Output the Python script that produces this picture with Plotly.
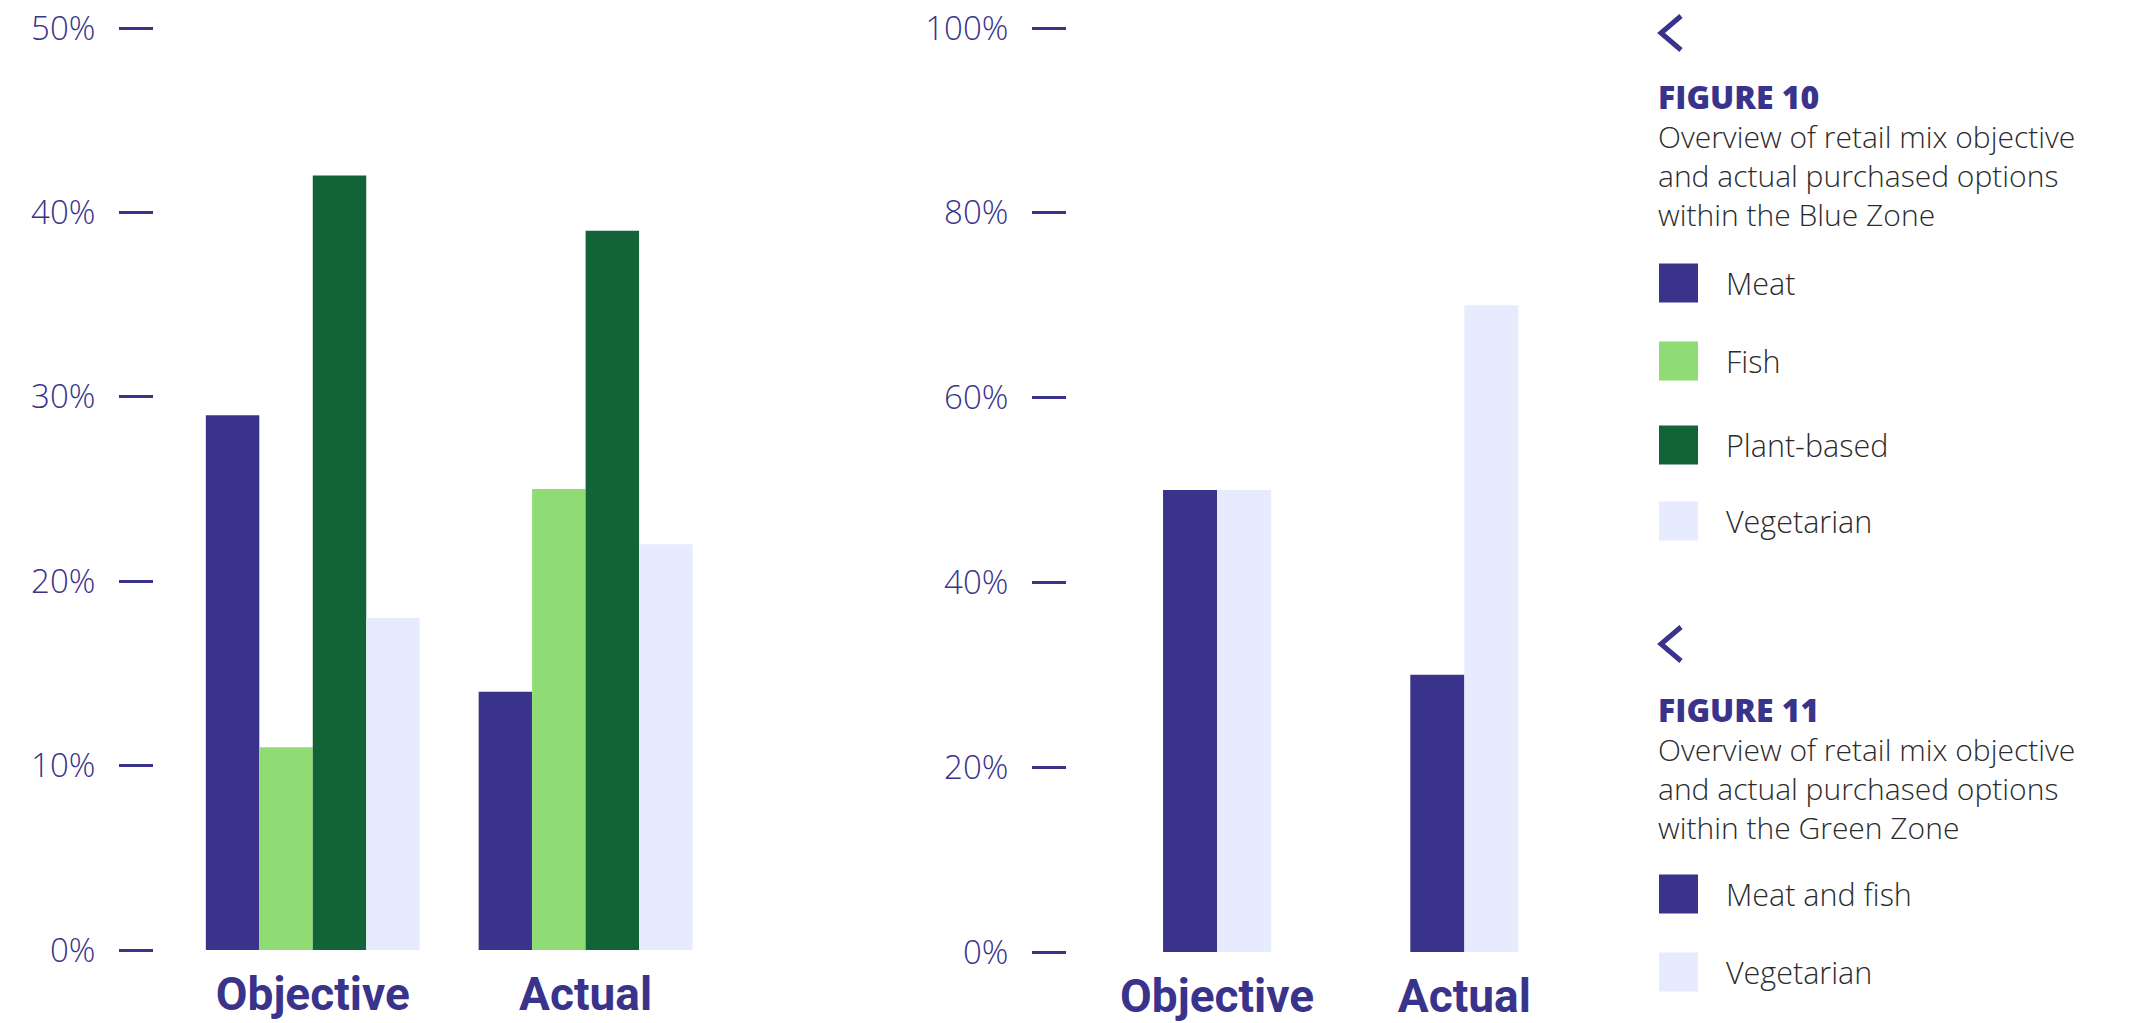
import plotly.graph_objects as go

# ---- data ----------------------------------------------------------------
categories = ["Objective", "Actual"]

# Figure 10: Blue Zone retail mix (%)
blue_series = ["Meat", "Fish", "Plant-based", "Vegetarian"]
blue_meat = [29, 14]
blue_fish = [11, 25]
blue_plant = [42, 39]
blue_veg = [18, 22]

# Figure 11: Green Zone retail mix (%)
green_series = ["Meat and fish", "Vegetarian"]
green_meat_fish = [50, 30]
green_veg = [50, 70]

blue_ticks = [0, 10, 20, 30, 40, 50]
green_ticks = [0, 20, 40, 60, 80, 100]

fig10_title = "FIGURE 10"
fig10_caption = ["Overview of retail mix objective",
                 "and actual purchased options",
                 "within the Blue Zone"]
fig11_title = "FIGURE 11"
fig11_caption = ["Overview of retail mix objective",
                 "and actual purchased options",
                 "within the Green Zone"]

# ---- styling -------------------------------------------------------------
W, H = 2152, 1023
PURPLE = "#3a338c"
FISH_GREEN = "#8edc73"
PLANT_GREEN = "#136339"
VEG_BLUE = "#e6ebfd"
TEXT_GREY = "#2b2b2b"

blue_colors = [PURPLE, FISH_GREEN, PLANT_GREEN, VEG_BLUE]
green_colors = [PURPLE, VEG_BLUE]


def fx(px):
    return px / W


def fy(py):
    return 1 - py / H


fig = go.Figure()

# Blue Zone grouped bars
blue_values = [blue_meat, blue_fish, blue_plant, blue_veg]
bw1 = 0.196
for i, (name, vals, col) in enumerate(zip(blue_series, blue_values, blue_colors)):
    fig.add_trace(go.Bar(
        x=categories, y=vals, name=name, marker=dict(color=col, line=dict(width=0)),
        width=bw1, offset=-2 * bw1 + i * bw1, xaxis="x", yaxis="y", showlegend=False,
    ))

# Green Zone grouped bars
green_values = [green_meat_fish, green_veg]
bw2 = 0.2186
for i, (name, vals, col) in enumerate(zip(green_series, green_values, green_colors)):
    fig.add_trace(go.Bar(
        x=categories, y=vals, name=name, marker=dict(color=col, line=dict(width=0)),
        width=bw2, offset=-bw2 + i * bw2, xaxis="x2", yaxis="y2", showlegend=False,
    ))

tick_font = dict(family="Open Sans", size=33, color=PURPLE, weight=300)
cat_font = dict(family="Roboto", size=46, color=PURPLE, weight=700)

yaxis_common = dict(
    ticks="outside", ticklen=34, tickwidth=2.5, tickcolor=PURPLE,
    showgrid=False, zeroline=False, showline=False, automargin=False,
    tickfont=tick_font, ticklabelstandoff=17, fixedrange=True,
)
xaxis_common = dict(
    type="category", ticks="", showgrid=False, zeroline=False, showline=False,
    automargin=False, tickfont=cat_font, ticklabelstandoff=13, fixedrange=True,
)

fig.update_layout(
    width=W, height=H,
    margin=dict(l=0, r=0, t=0, b=0, autoexpand=False),
    paper_bgcolor="white", plot_bgcolor="white",
    barmode="group",
    xaxis=dict(domain=[fx(154), fx(722)], range=[-0.582, 1.5], anchor="y", **xaxis_common),
    yaxis=dict(domain=[fy(950), fy(28)], range=[0, 50], anchor="x",
               tickvals=blue_ticks, ticktext=[f"{v}%" for v in blue_ticks], **yaxis_common),
    xaxis2=dict(domain=[fx(1067), fx(1588)], range=[-0.607, 1.5], anchor="y2", **xaxis_common),
    yaxis2=dict(domain=[fy(952), fy(28)], range=[0, 100], anchor="x2",
                tickvals=green_ticks, ticktext=[f"{v}%" for v in green_ticks], **yaxis_common),
)

# ---- side panel: captions and legends --------------------------------------
shapes = []
annotations = []
PANEL_X = 1659
LABEL_X = 1726
SW = 39  # swatch size in px
BODY_SIZE = 30

body_font = dict(family="Open Sans", size=BODY_SIZE, color=TEXT_GREY, weight=300)
label_font = dict(family="Open Sans", size=30.5, color=TEXT_GREY, weight=300)


def chevron(top, bottom):
    mid = (top + bottom) / 2
    path = (f"M {fx(PANEL_X + 22)} {fy(top)} L {fx(PANEL_X + 2)} {fy(mid)} "
            f"L {fx(PANEL_X + 22)} {fy(bottom)}")
    shapes.append(dict(type="path", path=path, xref="paper", yref="paper",
                       line=dict(color=PURPLE, width=5)))


def text(x, y, s, font, yanchor="middle"):
    annotations.append(dict(x=fx(x), y=fy(y), xref="paper", yref="paper", text=s,
                            showarrow=False, xanchor="left", yanchor=yanchor,
                            align="left", font=font))


def panel(title, caption, names, colors, chev_top, title_y, row_ys):
    chevron(chev_top, chev_top + 34)
    # heading in bold purple followed by the caption lines, as one text block
    heading = (f"<span style='font-weight:800;font-size:32px;color:{PURPLE}'>"
               f"{title}</span>")
    block = "<br>".join([heading] + caption)
    text(PANEL_X - 3, title_y - BODY_SIZE * 1.3 / 2, block, body_font, yanchor="top")
    for name, col, yy in zip(names, colors, row_ys):
        shapes.append(dict(type="rect", xref="paper", yref="paper",
                           x0=fx(PANEL_X), x1=fx(PANEL_X + SW),
                           y0=fy(yy + SW / 2), y1=fy(yy - SW / 2),
                           fillcolor=col, line=dict(width=0)))
        text(LABEL_X - 2, yy, name, label_font)


panel(fig10_title, fig10_caption, blue_series, blue_colors,
      16, 92, [283, 361, 445, 521])
panel(fig11_title, fig11_caption, green_series, green_colors,
      627, 705, [894, 972])

fig.update_layout(shapes=shapes, annotations=annotations)

fig.write_html("out.html", config={"displayModeBar": False})
